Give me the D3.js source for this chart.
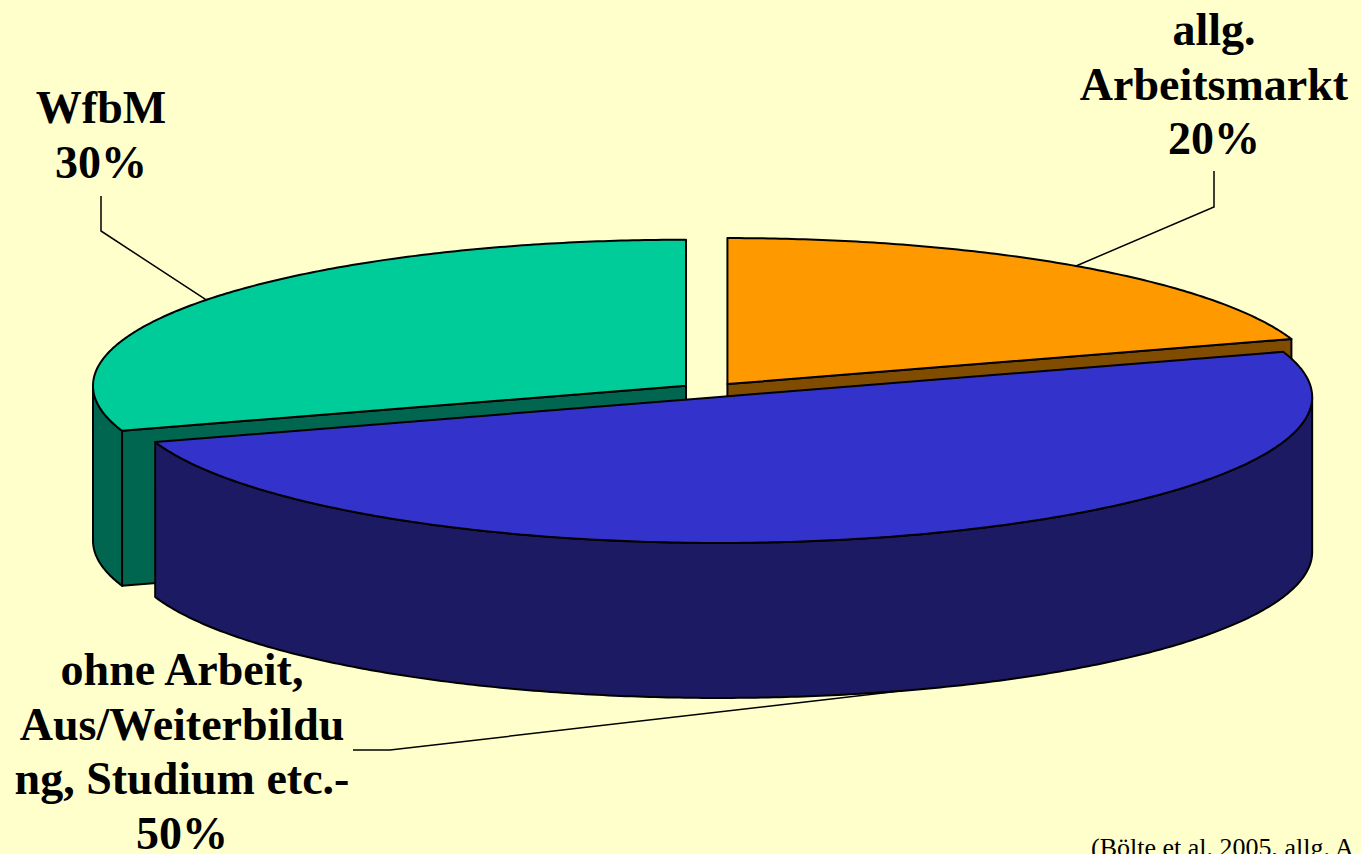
<!DOCTYPE html>
<html>

<head>
  <title> </title>
</head>
<meta charset="utf-8">
<style>
  body {
    margin: 0;
    background: #ffffcc;
  }

  .label {
    font-family: "Liberation Serif", "Times New Roman", serif;
    font-weight: bold;
    font-size: 46px;
    fill: #000;
  }

  .note {
    font-family: "Liberation Serif", "Times New Roman", serif;
    font-size: 26px;
    fill: #000;
  }
</style>

<body>
  <svg width="1361" height="854"></svg>
  <script src="https://cdn.jsdelivr.net/npm/d3@7/dist/d3.min.js"></script>
  <script>
    // slices, clockwise from 12 o'clock
    var categories = ["allg. Arbeitsmarkt", "ohne Arbeit, Aus/Weiterbildung, Studium etc.", "WfbM"];
    var values = [20, 50, 30];
    var labelLines = [
      ["allg.", "Arbeitsmarkt"],
      ["ohne Arbeit,", "Aus/Weiterbildu", "ng, Studium etc.-"],
      ["WfbM"]
    ];
    var topColors = ["#ff9900", "#3333cc", "#00cc99"];
    var sideColors = ["#7f4c00", "#1b1a63", "#006650"];

    var svg = d3.select("svg"),
      width = +svg.attr("width"),
      height = +svg.attr("height");

    svg.append("rect")
      .attr("width", width)
      .attr("height", height)
      .attr("fill", "#ffffcc");

    // pie geometry (ellipse seen from above at an angle)
    var cx = 710, cy = 390, rx = 593, ry = 146, depth = 155, explode = 0.05;

    var sx = d3.scaleLinear().domain([-1, 1]).range([cx - rx, cx + rx]),
      sy = d3.scaleLinear().domain([-1, 1]).range([cy - ry, cy + ry]);

    var data = categories.map(function(c, i) {
      return { name: c, value: values[i], i: i };
    });

    var arcs = d3.pie().sort(null).value(function(d) {
      return d.value;
    })(data);

    arcs.forEach(function(a) {
      var mid = (a.startAngle + a.endAngle) / 2;
      a.mid = mid;
      a.ox = explode * Math.sin(mid);
      a.oy = -explode * Math.cos(mid);
      a.pt = function(t, dz) {
        return [sx(a.ox + Math.sin(t)), sy(a.oy - Math.cos(t)) + (dz || 0)];
      };
      a.center = function(dz) {
        return [sx(a.ox), sy(a.oy) + (dz || 0)];
      };
    });

    function angles(a0, a1) {
      var n = Math.max(2, Math.ceil((a1 - a0) / 0.01));
      return d3.range(n + 1).map(function(k) {
        return a0 + (a1 - a0) * k / n;
      });
    }

    var line = d3.line();

    // back slices first
    var order = arcs.slice().sort(function(a, b) {
      return -Math.cos(a.mid) - -Math.cos(b.mid);
    });

    var g = svg.append("g")
      .attr("stroke", "#000")
      .attr("stroke-width", 2)
      .attr("stroke-linejoin", "round");

    order.forEach(function(a) {
      var i = a.data.i;
      var sg = g.append("g");

      // flat cut faces that look toward the viewer
      [[a.startAngle, Math.sin(a.startAngle) < -1e-6], [a.endAngle, Math.sin(a.endAngle) > 1e-6]]
        .forEach(function(f) {
          if (!f[1]) return;
          var pts = [a.center(0), a.pt(f[0], 0), a.pt(f[0], depth), a.center(depth)];
          sg.append("path")
            .attr("d", line(pts) + "Z")
            .attr("fill", sideColors[i]);
        });

      // outer wall, front half only
      var t0 = Math.max(a.startAngle, Math.PI / 2),
        t1 = Math.min(a.endAngle, Math.PI * 3 / 2);
      if (t1 > t0) {
        var ts = angles(t0, t1);
        var pts = ts.map(function(t) { return a.pt(t, 0); })
          .concat(ts.slice().reverse().map(function(t) { return a.pt(t, depth); }));
        sg.append("path")
          .attr("d", line(pts) + "Z")
          .attr("fill", sideColors[i]);
      }

      // top face
      var top = [a.center(0)].concat(angles(a.startAngle, a.endAngle).map(function(t) {
        return a.pt(t, 0);
      }));
      sg.append("path")
        .attr("d", line(top) + "Z")
        .attr("fill", topColors[i]);
    });

    // labels and leader lines
    var labelPos = [
      { x: 1214, y: 45, lead: [[1214, 171], [1214, 207]], edge: "top" },
      { x: 182, y: 685, lead: [[353, 750], [390, 750]], edge: "bottom" },
      { x: 101, y: 123, lead: [[101, 196], [101, 231]], edge: "top" }
    ];
    var lh = 54.5;

    arcs.forEach(function(a) {
      var i = a.data.i, p = labelPos[i];
      var anchor = a.pt(a.mid, p.edge === "top" ? 0 : depth);
      svg.append("path")
        .attr("d", line(p.lead.concat([anchor])))
        .attr("fill", "none")
        .attr("stroke", "#000")
        .attr("stroke-width", 1.5);

      var lines = labelLines[i].concat([a.data.value + "%"]);
      var t = svg.append("text")
        .attr("class", "label")
        .attr("text-anchor", "middle");
      lines.forEach(function(s, k) {
        t.append("tspan")
          .attr("x", p.x)
          .attr("y", p.y + k * lh)
          .text(s);
      });
    });

    svg.append("text")
      .attr("class", "note")
      .attr("x", 1091)
      .attr("y", 856)
      .text("(Bölte et al. 2005, allg. A");
  </script>
</body>

</html>
